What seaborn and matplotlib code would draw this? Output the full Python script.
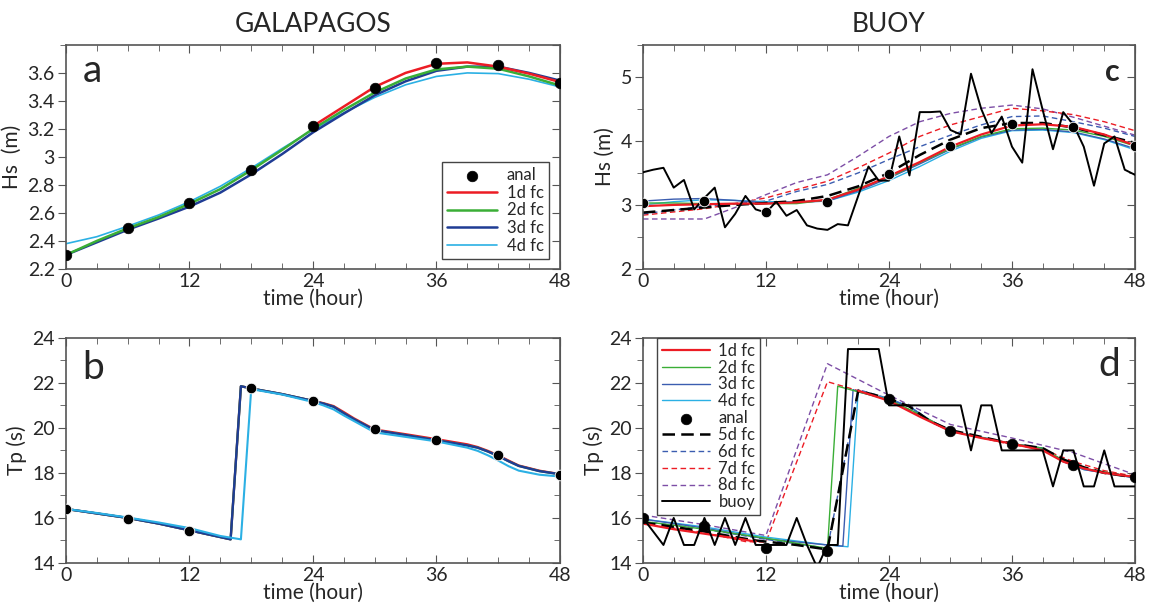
import matplotlib
matplotlib.use("Agg")
import matplotlib.pyplot as plt
from matplotlib.ticker import MultipleLocator
import seaborn as sns

# ---- data ----
t3 = [0, 3, 6, 9, 12, 15, 18, 21, 24, 27, 30, 33, 36, 39, 42, 45, 48]
t6 = [0, 6, 12, 18, 24, 30, 36, 42, 48]
t1 = list(range(49))

# panel a: Hs Galapagos
hs_gal_anal = [2.30, 2.49, 2.67, 2.91, 3.22, 3.49, 3.67, 3.655, 3.53]
t_gal_1d = [24, 27, 30, 33, 36, 39, 42, 45, 48]
hs_gal_1d = [3.22, 3.36, 3.50, 3.60, 3.665, 3.675, 3.645, 3.595, 3.535]
hs_gal_2d = [2.30, 2.40, 2.49, 2.57, 2.665, 2.77, 2.905, 3.05, 3.20, 3.335, 3.46, 3.56, 3.625, 3.645, 3.63, 3.575, 3.51]
hs_gal_3d = [2.30, 2.39, 2.48, 2.56, 2.645, 2.745, 2.875, 3.02, 3.175, 3.31, 3.44, 3.54, 3.615, 3.645, 3.645, 3.60, 3.545]
hs_gal_4d = [2.38, 2.43, 2.505, 2.585, 2.68, 2.79, 2.92, 3.06, 3.195, 3.315, 3.425, 3.515, 3.575, 3.60, 3.595, 3.555, 3.50]

# panel b: Tp Galapagos
tp_gal_anal = [16.4, 15.95, 15.4, 21.75, 21.2, 19.97, 19.47, 18.8, 17.9]
t_gal_3d = [0, 3, 6, 9, 12, 15, 16, 17, 18, 21, 24, 25, 26, 27, 28, 30, 33, 36, 39, 40, 41, 42, 43, 44, 46, 48]
tp_gal_3d = [16.4, 16.2, 16.0, 15.75, 15.45, 15.15, 15.05, 21.85, 21.75, 21.5, 21.2, 21.08, 20.94, 20.65, 20.38,
             19.9, 19.68, 19.45, 19.22, 19.12, 18.95, 18.75, 18.52, 18.31, 18.08, 17.94]
tp_gal_1d = [16.4, 16.2, 16.0, 15.75, 15.45, 15.15, 15.05, 21.85, 21.75, 21.5, 21.2, 21.1, 20.97, 20.7, 20.42,
             19.93, 19.72, 19.5, 19.27, 19.15, 18.98, 18.78, 18.55, 18.33, 18.1, 17.95]
tp_gal_2d = tp_gal_3d
t_gal_4d = [0, 3, 6, 9, 12, 15, 17, 18, 21, 24, 25, 26, 27, 28, 30, 33, 36, 39, 40, 41, 42, 43, 44, 46, 48]
tp_gal_4d = [16.4, 16.22, 16.02, 15.8, 15.55, 15.2, 15.05, 21.72, 21.48, 21.15, 21.0, 20.82, 20.55, 20.3,
             19.8, 19.6, 19.4, 19.12, 18.98, 18.78, 18.55, 18.3, 18.1, 17.92, 17.84]

# panel c: Hs buoy
hs_buoy = [3.51, 3.55, 3.58, 3.27, 3.39, 2.93, 3.11, 3.27, 2.65, 2.86,
           3.14, 2.93, 2.88, 3.05, 2.83, 2.92, 2.68, 2.63, 2.61, 2.70,
           2.68, 3.14, 3.60, 3.38, 3.38, 4.07, 3.46, 4.45, 4.45, 4.46,
           4.17, 4.10, 5.05, 4.50, 4.12, 4.38, 3.91, 3.66, 5.12, 4.48,
           3.87, 4.45, 4.25, 3.91, 3.30, 3.96, 4.07, 3.55, 3.47]
hs_b_anal = [3.03, 3.06, 2.89, 3.05, 3.48, 3.92, 4.26, 4.21, 3.92]
hs_b_1d = [2.98, 3.00, 3.01, 3.02, 3.02, 3.04, 3.08, 3.24, 3.45, 3.67, 3.91, 4.10, 4.24, 4.26, 4.22, 4.10, 3.93]
hs_b_2d = [3.03, 3.03, 3.02, 3.02, 3.02, 3.02, 3.08, 3.26, 3.43, 3.66, 3.88, 4.07, 4.19, 4.20, 4.17, 4.07, 3.92]
hs_b_3d = [3.06, 3.09, 3.10, 3.07, 3.03, 3.04, 3.06, 3.22, 3.42, 3.64, 3.87, 4.06, 4.17, 4.18, 4.14, 4.03, 3.88]
hs_b_4d = [3.00, 3.05, 3.08, 3.07, 3.05, 3.05, 3.06, 3.20, 3.38, 3.60, 3.84, 4.04, 4.16, 4.17, 4.13, 4.02, 3.86]
hs_b_5d = [2.88, 2.92, 2.96, 3.00, 3.03, 3.06, 3.14, 3.29, 3.50, 3.78, 4.02, 4.20, 4.28, 4.28, 4.21, 4.09, 3.97]
hs_b_6d = [2.86, 2.92, 2.98, 3.02, 3.06, 3.21, 3.32, 3.50, 3.71, 3.91, 4.09, 4.25, 4.38, 4.39, 4.30, 4.20, 4.07]
hs_b_7d = [2.84, 2.89, 2.94, 3.02, 3.11, 3.24, 3.37, 3.58, 3.81, 4.07, 4.25, 4.38, 4.51, 4.47, 4.41, 4.30, 4.16]
hs_b_8d = [2.78, 2.78, 2.78, 2.96, 3.16, 3.35, 3.47, 3.76, 4.07, 4.30, 4.43, 4.51, 4.56, 4.50, 4.37, 4.23, 4.09]

# panel d: Tp buoy
tp_buoy = [16.0, 15.4, 14.8, 16.0, 14.8, 14.8, 16.0, 14.8, 16.0, 14.8,
           16.0, 14.8, 14.8, 14.8, 14.8, 16.0, 14.8, 13.8, 14.8, 14.8,
           23.5, 23.5, 23.5, 23.5, 21.0, 21.0, 21.0, 21.0, 21.0, 21.0,
           21.0, 21.0, 19.0, 21.0, 21.0, 19.0, 19.0, 19.0, 19.0, 19.0,
           17.4, 19.0, 19.0, 17.4, 17.4, 19.0, 17.4, 17.4, 17.4]
tp_b_anal = [16.0, 15.66, 14.68, 14.53, 21.27, 19.87, 19.3, 18.36, 17.8]
t_b_1d_a = [0, 3, 6, 9, 11]
tp_b_1d_a = [15.75, 15.5, 15.3, 15.1, 14.95]
t_b_1d_b = [21, 24, 27, 30, 33, 36, 39, 41, 43, 45, 48]
tp_b_1d_b = [21.65, 21.2, 20.5, 19.85, 19.55, 19.3, 19.0, 18.5, 18.2, 18.0, 17.82]
t_b_2d = [0, 6, 12, 18, 19, 21, 24, 27, 30, 36, 39, 41, 43, 48]
tp_b_2d = [15.85, 15.5, 15.1, 14.65, 21.85, 21.6, 21.25, 20.6, 19.85, 19.3, 19.1, 18.55, 18.2, 17.8]
t_b_3d = [0, 6, 12, 18, 19.5, 20.5, 21, 24, 26, 28, 30, 36, 39, 41, 43, 48]
tp_b_3d = [15.95, 15.55, 15.07, 14.8, 14.75, 21.7, 21.6, 21.25, 20.95, 20.3, 19.85, 19.3, 19.1, 18.5, 18.15, 17.78]
t_b_4d = [0, 6, 12, 18, 20, 21, 24, 26, 28, 30, 36, 39, 41, 43, 48]
tp_b_4d = [15.95, 15.6, 15.15, 14.8, 14.72, 21.65, 21.28, 20.95, 20.35, 19.88, 19.3, 19.05, 18.5, 18.15, 17.78]
t_b_5d = [0, 3, 6, 9, 11, 12, 15, 18, 21, 24, 26, 28, 30, 33, 36, 39, 41, 43, 45, 48]
tp_b_5d = [15.8, 15.6, 15.4, 15.15, 15.0, 14.95, 14.8, 14.6, 21.65, 21.3, 20.95, 20.3, 19.9, 19.6, 19.3,
           19.1, 18.6, 18.25, 18.0, 17.8]
t_b_6d = [0, 6, 12, 18, 21, 24, 26, 28, 30, 36, 39, 41, 43, 48]
tp_b_6d = [15.85, 15.5, 15.05, 14.65, 21.7, 21.3, 20.95, 20.3, 19.85, 19.3, 19.1, 18.55, 18.2, 17.8]
t_b_7d = [0, 6, 10, 12, 18, 24, 30, 36, 39, 42, 45, 48]
tp_b_7d = [15.75, 15.35, 14.95, 14.93, 22.05, 21.25, 19.87, 19.25, 19.05, 18.5, 18.1, 17.85]
t_b_8d = [0, 6, 12, 18, 24, 30, 36, 42, 48]
tp_b_8d = [16.13, 15.7, 15.22, 22.85, 21.45, 20.15, 19.55, 18.9, 17.92]

# ---- style ----
RED = '#ec1c24'
GREEN = '#3aae36'
NAVY = '#1f3c94'
BLUE = '#3b5db0'
CYAN = '#2bb0e4'
PURPLE = '#7d4ea6'
FRAME = '#555555'
DASH = (0, (4, 2.5))
LDASH = (0, (5, 2.5))

sns.set_style("ticks")
plt.rcParams['font.family'] = ['Lato', 'DejaVu Sans']


def line(ax, x, y, color, lw=1.2, ls='-', label=None, z=2):
    sns.lineplot(x=x, y=y, ax=ax, color=color, linewidth=lw, linestyle=ls,
                 estimator=None, sort=False, label=label, zorder=z)


def dots(ax, x, y):
    sns.scatterplot(x=x, y=y, ax=ax, color='black', s=58, edgecolor='black',
                    linewidth=0.5, label='anal', zorder=6)


def setup(ax, ylim, ymajor, yminor, ylabel):
    ax.set_xlim(0, 48)
    ax.set_ylim(*ylim)
    ax.xaxis.set_major_locator(MultipleLocator(12))
    ax.xaxis.set_minor_locator(MultipleLocator(3))
    ax.yaxis.set_major_locator(MultipleLocator(ymajor))
    ax.yaxis.set_minor_locator(MultipleLocator(yminor))
    ax.tick_params(axis='x', which='both', direction='in', top=True, bottom=True,
                   labelsize=14, color=FRAME, pad=3)
    ax.tick_params(axis='x', which='major', length=6)
    ax.tick_params(axis='x', which='minor', length=4)
    ax.tick_params(axis='y', which='both', direction='out', left=True, right=False,
                   labelsize=14, color=FRAME, pad=2)
    ax.tick_params(axis='y', which='major', length=6)
    ax.tick_params(axis='y', which='minor', length=4)
    sec = ax.secondary_yaxis('right')
    sec.yaxis.set_major_locator(MultipleLocator(ymajor))
    sec.yaxis.set_minor_locator(MultipleLocator(yminor))
    sec.tick_params(which='both', direction='in', labelright=False, color=FRAME)
    sec.tick_params(which='major', length=6)
    sec.tick_params(which='minor', length=4)
    sec.spines['right'].set_color(FRAME)
    for s in ax.spines.values():
        s.set_color(FRAME)
        s.set_linewidth(1.2)
        s.set_visible(True)
    ax.set_xlabel('time (hour)', fontsize=15, labelpad=-1)
    ax.set_ylabel(ylabel, fontsize=15, labelpad=4)


fig = plt.figure(figsize=(11.51, 6.07), dpi=100)
ax_a = fig.add_axes([0.0573, 0.557, 0.4292, 0.369])
ax_b = fig.add_axes([0.0573, 0.0725, 0.4292, 0.371])
ax_c = fig.add_axes([0.5586, 0.557, 0.4275, 0.369])
ax_d = fig.add_axes([0.5586, 0.0725, 0.4275, 0.371])

# panel a
line(ax_a, t3, hs_gal_4d, CYAN, 1.2, label='4d fc')
line(ax_a, t3, hs_gal_3d, NAVY, 1.8, label='3d fc')
line(ax_a, t3, hs_gal_2d, GREEN, 1.8, label='2d fc')
line(ax_a, t_gal_1d, hs_gal_1d, RED, 1.8, label='1d fc')
dots(ax_a, t6, hs_gal_anal)
setup(ax_a, (2.2, 3.8), 0.2, 0.2, 'Hs  (m)')
ax_a.set_yticks([2.2, 2.4, 2.6, 2.8, 3.0, 3.2, 3.4, 3.6])
ax_a.set_yticklabels(['2.2', '2.4', '2.6', '2.8', '3', '3.2', '3.4', '3.6'])
h, l = ax_a.get_legend_handles_labels()
order = ['anal', '1d fc', '2d fc', '3d fc', '4d fc']
ax_a.legend([h[l.index(o)] for o in order], order, loc='lower right',
            bbox_to_anchor=(0.977, 0.045), fontsize=12, frameon=True, fancybox=False,
            edgecolor='#444444', framealpha=1, handlelength=3.0, labelspacing=0.1,
            borderpad=0.3, handletextpad=0.6, borderaxespad=0)
ax_a.set_title('GALAPAGOS', fontsize=19, pad=9)
ax_a.text(0.034, 0.835, 'a', transform=ax_a.transAxes, fontsize=28)

# panel b
line(ax_b, t_gal_3d, tp_gal_1d, RED, 1.6)
line(ax_b, t_gal_3d, tp_gal_2d, GREEN, 1.6)
line(ax_b, t_gal_3d, tp_gal_3d, NAVY, 1.7)
line(ax_b, t_gal_4d, tp_gal_4d, CYAN, 1.5)
sns.scatterplot(x=t6, y=tp_gal_anal, ax=ax_b, color='black', s=58, zorder=6)
setup(ax_b, (14, 24), 2, 1, 'Tp (s)')
ax_b.text(0.034, 0.818, 'b', transform=ax_b.transAxes, fontsize=28)

# panel c
line(ax_c, t3, hs_b_8d, PURPLE, 1.0, DASH, '8d fc')
line(ax_c, t3, hs_b_7d, RED, 1.0, DASH, '7d fc')
line(ax_c, t3, hs_b_6d, BLUE, 1.0, DASH, '6d fc')
line(ax_c, t3, hs_b_4d, CYAN, 1.0, label='4d fc')
line(ax_c, t3, hs_b_3d, BLUE, 1.0, label='3d fc')
line(ax_c, t3, hs_b_2d, GREEN, 1.0, label='2d fc')
line(ax_c, t3, hs_b_5d, 'black', 1.8, LDASH, '5d fc')
line(ax_c, t3, hs_b_1d, RED, 1.6, label='1d fc')
line(ax_c, t1, hs_buoy, 'black', 1.4, label='buoy', z=3)
sns.scatterplot(x=t6, y=hs_b_anal, ax=ax_c, color='black', s=58, zorder=6)
setup(ax_c, (2, 5.5), 1, 0.5, 'Hs (m)')
if ax_c.get_legend():
    ax_c.get_legend().remove()
ax_c.set_title('BUOY', fontsize=19, pad=9)
ax_c.text(0.97, 0.839, 'c', transform=ax_c.transAxes, fontsize=22, ha='right',
          fontweight='bold')

# panel d
line(ax_d, t_b_8d, tp_b_8d, PURPLE, 1.0, DASH, '8d fc')
line(ax_d, t_b_7d, tp_b_7d, RED, 1.0, DASH, '7d fc')
line(ax_d, t_b_6d, tp_b_6d, BLUE, 1.0, DASH, '6d fc')
line(ax_d, t_b_4d, tp_b_4d, CYAN, 1.0, label='4d fc')
line(ax_d, t_b_3d, tp_b_3d, BLUE, 1.0, label='3d fc')
line(ax_d, t_b_2d, tp_b_2d, GREEN, 1.0, label='2d fc')
line(ax_d, t_b_5d, tp_b_5d, 'black', 1.8, LDASH, '5d fc')
line(ax_d, t_b_1d_a, tp_b_1d_a, RED, 1.6)
line(ax_d, t_b_1d_b, tp_b_1d_b, RED, 1.6, label='1d fc')
line(ax_d, t1, tp_buoy, 'black', 1.4, label='buoy', z=3)
dots(ax_d, t6, tp_b_anal)
setup(ax_d, (14, 24), 2, 1, 'Tp (s)')
h, l = ax_d.get_legend_handles_labels()
order = ['1d fc', '2d fc', '3d fc', '4d fc', 'anal', '5d fc', '6d fc', '7d fc', '8d fc', 'buoy']
ax_d.legend([h[l.index(o)] for o in order], order, loc='upper left',
            bbox_to_anchor=(0.028, 1.0), fontsize=12, frameon=True, fancybox=False,
            edgecolor='#444444', framealpha=1, handlelength=2.9, labelspacing=0.05,
            borderpad=0.3, handletextpad=0.5, borderaxespad=0)
ax_d.text(0.97, 0.83, 'd', transform=ax_d.transAxes, fontsize=28, ha='right')

fig.savefig('out.png', dpi=100)
